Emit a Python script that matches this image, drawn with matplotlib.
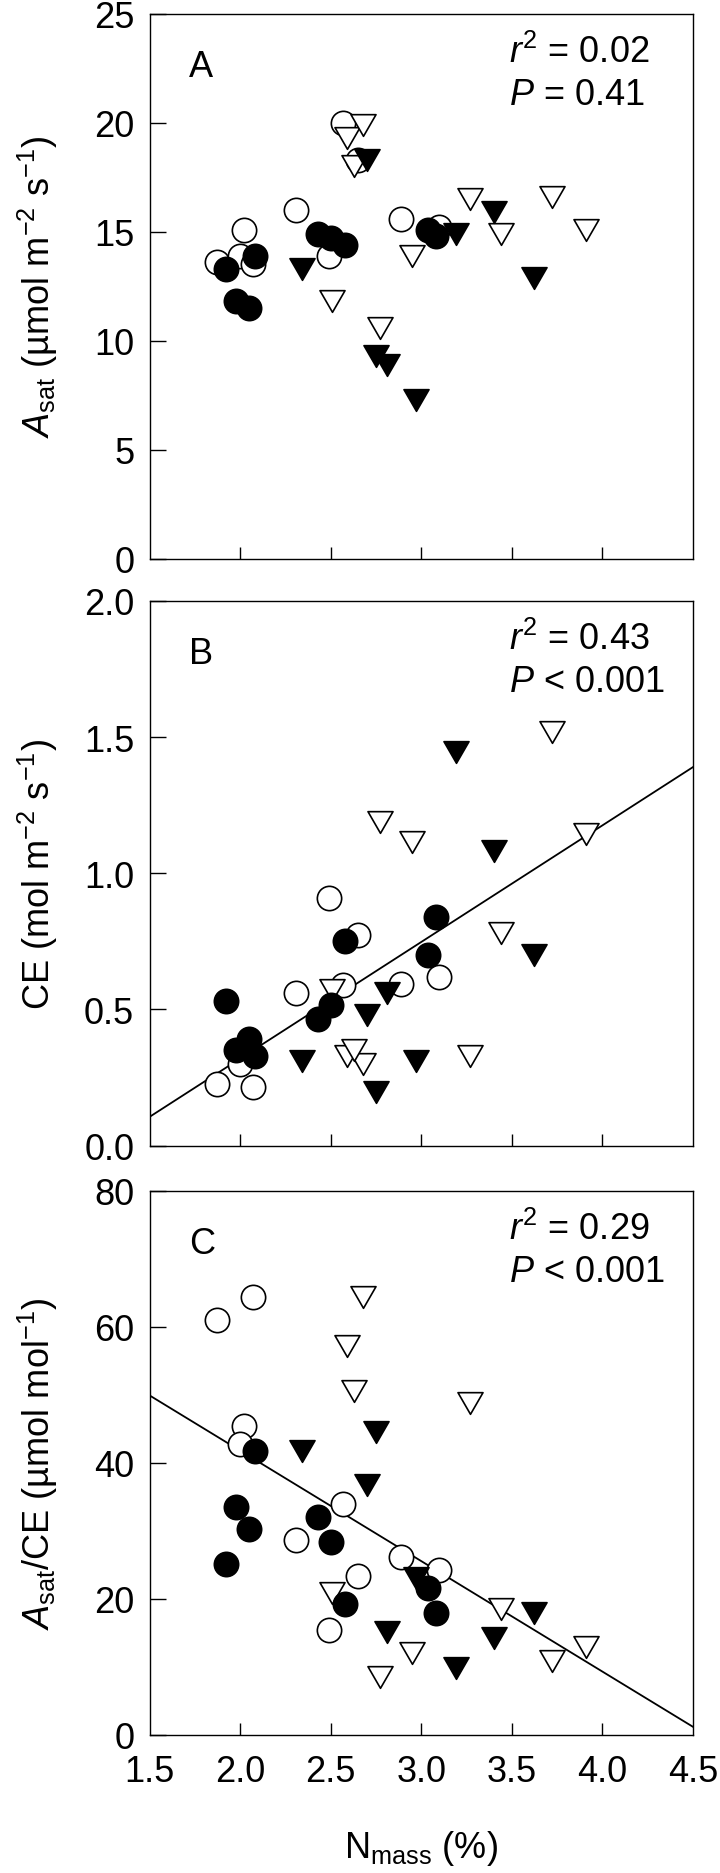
"""
Leaf N vs. light-saturated photosynthesis (A), carboxylation efficiency (B)
and their ratio (C). Three stacked panels sharing the N_mass axis.
"""

import numpy as np
import matplotlib
matplotlib.use("Agg")
import matplotlib.pyplot as plt
from matplotlib.path import Path

plt.rcParams["font.family"] = ["Liberation Sans", "DejaVu Sans"]
plt.rcParams["mathtext.fontset"] = "custom"
plt.rcParams["mathtext.rm"] = "Liberation Sans"
plt.rcParams["mathtext.it"] = "Liberation Sans:italic"
plt.rcParams["mathtext.bf"] = "Liberation Sans:bold"

# ── Data ───────────────────────────────────────────────────────────────────
# open circles
oc_n     = [1.87, 2.02, 2.00, 2.07, 2.31, 2.49, 2.57, 2.65, 2.89, 3.10]
oc_asat  = [13.6, 15.1, 13.9, 13.5, 16.0, 13.9, 20.0, 18.3, 15.6, 15.2]
oc_ce    = [0.225, 0.32, 0.30, 0.215, 0.56, 0.91, 0.59, 0.775, 0.595, 0.62]
oc_ratio = [60.9, 45.4, 42.8, 64.3, 28.6, 15.5, 34.0, 23.4, 26.2, 24.3]

# filled circles
fc_n     = [1.92, 1.98, 2.05, 2.08, 2.43, 2.50, 2.58, 3.04, 3.08]
fc_asat  = [13.3, 11.8, 11.5, 13.9, 14.9, 14.7, 14.4, 15.1, 14.8]
fc_ce    = [0.53, 0.35, 0.39, 0.33, 0.465, 0.515, 0.75, 0.70, 0.84]
fc_ratio = [25.1, 33.5, 30.3, 41.7, 32.0, 28.4, 19.2, 21.6, 17.9]

# open triangles
ot_n     = [2.51, 2.59, 2.68, 2.63, 2.77, 2.95, 3.27, 3.44, 3.72, 3.91]
ot_asat  = [11.8, 19.3, 19.9, 18.0, 10.6, 13.9, 16.5, 14.9, 16.6, 15.1]
ot_ce    = [0.57, 0.33, 0.30, 0.35, 1.19, 1.115, 0.33, 0.78, 1.52, 1.145]
ot_ratio = [20.9, 57.1, 64.3, 50.5, 8.5, 12.0, 48.8, 18.5, 10.8, 12.9]

# filled triangles
ft_n     = [2.34, 2.70, 2.75, 2.81, 2.97, 3.19, 3.40, 3.62]
ft_asat  = [13.3, 18.3, 9.3, 8.9, 7.3, 14.9, 15.9, 12.9]
ft_ce    = [0.31, 0.48, 0.195, 0.56, 0.31, 1.445, 1.08, 0.70]
ft_ratio = [41.7, 36.8, 44.5, 15.2, 23.0, 9.9, 14.3, 17.9]

# regression lines (end points)
fit_n     = [1.5, 4.5]
fit_ce    = [0.105, 1.39]
fit_ratio = [49.9, 1.2]

panel_labels = ["A", "B", "C"]
stats_r2     = ["0.02", "0.43", "0.29"]
stats_p      = ["= 0.41", "< 0.001", "< 0.001"]

x_ticks = [1.5, 2.0, 2.5, 3.0, 3.5, 4.0, 4.5]

# ── Style ──────────────────────────────────────────────────────────────────
FS       = 26
MS       = 17.5
TRI_MS   = 18
MEW      = 1.2
TRI_DOWN = Path([(-1, 0.866), (1, 0.866), (0, -0.866), (-1, 0.866)],
                [Path.MOVETO, Path.LINETO, Path.LINETO, Path.CLOSEPOLY])

W, H = 720, 1874
LEFT, RIGHT = 149.5, 693.0
TOPS = [15.0, 602.0, 1191.5]
AX_H = 544.5


def draw_points(ax, oc, fc, ot, ft):
    ax.plot(oc_n, oc, "o", ls="none", ms=MS, mfc="white", mec="black",
            mew=MEW, zorder=3)
    ax.plot(ot_n, ot, marker=TRI_DOWN, ls="none", ms=TRI_MS, mfc="white",
            mec="black", mew=MEW, zorder=3)
    ax.plot(fc_n, fc, "o", ls="none", ms=MS, mfc="black", mec="black",
            mew=MEW, zorder=4)
    ax.plot(ft_n, ft, marker=TRI_DOWN, ls="none", ms=TRI_MS, mfc="black",
            mec="black", mew=MEW, zorder=4)


def style_axis(ax, ylim, yticks, ylabel, label, r2, p, show_x):
    ax.set_xlim(1.5, 4.5)
    ax.set_ylim(*ylim)
    ax.set_yticks(yticks)
    for s in ax.spines.values():
        s.set_linewidth(1.0)
    ax.tick_params(axis="y", direction="in", length=11.5, width=1.0,
                   labelsize=FS, pad=11)
    ax.tick_params(axis="x", direction="in", length=8.5, width=1.0,
                   labelsize=FS, pad=14)
    # tick marks only on the inner positions, labels on all of them
    ax.set_xticks(x_ticks[1:-1])
    if show_x:
        ax.set_xticks([x_ticks[0], x_ticks[-1]], minor=True)
        ax.set_xticklabels([f"{v:.1f}" for v in x_ticks[1:-1]])
        ax.set_xticklabels([f"{x_ticks[0]:.1f}", f"{x_ticks[-1]:.1f}"],
                           minor=True)
        ax.tick_params(axis="x", which="minor", length=0, labelsize=FS,
                       pad=14)
    else:
        ax.set_xticklabels([])
    ax.set_ylabel(ylabel, fontsize=FS)
    ax.yaxis.set_label_coords(-0.205, 0.5)
    ax.yaxis.label.set_va("center")

    ax.text(0.072, 0.903, label, transform=ax.transAxes, fontsize=FS,
            ha="left", va="center")
    ax.text(0.662, 0.93, f"$r^2$ = {r2}", transform=ax.transAxes,
            fontsize=FS, ha="left", va="center")
    ax.text(0.662, 0.852, f"$P$ {p}", transform=ax.transAxes,
            fontsize=FS, ha="left", va="center")


def main():
    fig = plt.figure(figsize=(W / 100, H / 100), dpi=100)
    axes = []
    for top in TOPS:
        axes.append(fig.add_axes([LEFT / W, 1 - (top + AX_H) / H,
                                  (RIGHT - LEFT) / W, AX_H / H]))
    ax_a, ax_b, ax_c = axes

    # Panel A
    draw_points(ax_a, oc_asat, fc_asat, ot_asat, ft_asat)
    style_axis(ax_a, (0, 25), [0, 5, 10, 15, 20, 25],
               r"$A_{\mathrm{sat}}$ (µmol m$^{-2}$ s$^{-1}$)",
               panel_labels[0], stats_r2[0], stats_p[0], False)

    # Panel B
    ax_b.plot(fit_n, fit_ce, color="black", lw=1.3, zorder=2)
    draw_points(ax_b, oc_ce, fc_ce, ot_ce, ft_ce)
    style_axis(ax_b, (0, 2.0), [0.0, 0.5, 1.0, 1.5, 2.0],
               r"CE (mol m$^{-2}$ s$^{-1}$)",
               panel_labels[1], stats_r2[1], stats_p[1], False)
    ax_b.set_yticklabels(["0.0", "0.5", "1.0", "1.5", "2.0"])

    # Panel C
    ax_c.plot(fit_n, fit_ratio, color="black", lw=1.3, zorder=2)
    draw_points(ax_c, oc_ratio, fc_ratio, ot_ratio, ft_ratio)
    style_axis(ax_c, (0, 80), [0, 20, 40, 60, 80],
               r"$A_{\mathrm{sat}}$/CE (µmol mol$^{-1}$)",
               panel_labels[2], stats_r2[2], stats_p[2], True)
    ax_c.set_xlabel(r"N$_{\mathrm{mass}}$ (%)", fontsize=FS)
    ax_c.xaxis.set_label_coords(0.5, -0.17)

    fig.savefig("out.png", dpi=100)
    plt.close(fig)


if __name__ == "__main__":
    main()
